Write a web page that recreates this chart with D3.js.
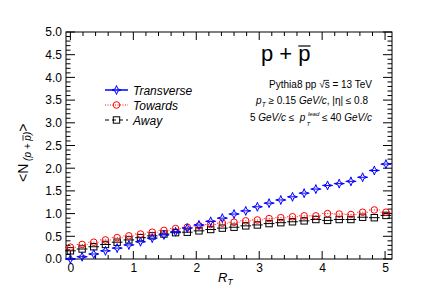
<!DOCTYPE html>
<html><head><meta charset="utf-8">
<script src="https://cdn.jsdelivr.net/npm/d3@7"></script>
<style>body{margin:0;background:#fff}svg{display:block;font-family:"Liberation Sans",Arial,sans-serif}text{white-space:pre}</style>
</head><body>
<script>
const rt = [0.000,0.186,0.371,0.557,0.743,0.929,1.114,1.300,1.486,1.671,1.857,2.043,2.229,2.414,2.600,2.786,2.971,3.157,3.343,3.529,3.714,3.900,4.086,4.271,4.457,4.643,4.829,5.014];
const transverse = [0.00,0.05,0.11,0.18,0.24,0.31,0.38,0.46,0.53,0.60,0.68,0.75,0.83,0.90,0.99,1.06,1.15,1.23,1.30,1.37,1.45,1.54,1.62,1.66,1.71,1.80,1.95,2.09];
const towards = [0.26,0.32,0.37,0.42,0.47,0.51,0.55,0.59,0.63,0.67,0.70,0.73,0.76,0.79,0.81,0.84,0.86,0.89,0.91,0.93,0.95,0.95,1.00,0.99,0.98,1.03,1.08,1.03];
const away = [0.18,0.22,0.27,0.32,0.37,0.42,0.47,0.51,0.55,0.58,0.59,0.62,0.65,0.68,0.70,0.73,0.75,0.78,0.80,0.82,0.84,0.87,0.85,0.87,0.87,0.92,0.91,0.96];
const seriesNames = ["Transverse","Towards","Away"];
const xTickLabels = ["0","1","2","3","4","5"];
const yTickLabels = ["0.0","0.5","1.0","1.5","2.0","2.5","3.0","3.5","4.0","4.5","5.0"];

const W=436,H=305;
const svg=d3.select("body").append("svg").attr("width",W).attr("height",H);
const L=66,R=392,T=32,B=259;
const x=d3.scaleLinear().domain([-0.07,5.11]).range([L,R]);
const y=d3.scaleLinear().domain([0,5]).range([B,T]);

svg.append("rect").attr("x",L).attr("y",T).attr("width",R-L).attr("height",B-T).attr("fill","none").attr("stroke","#000").attr("stroke-width",1);

const g=svg.append("g").attr("stroke","#000").attr("stroke-width",1);
const xMinor=d3.range(0,26).map(i=>i*0.2).filter(v=>x(v)<=R);
xMinor.forEach(v=>{
  const major=Math.abs(v-Math.round(v))<1e-6;
  const len=major?8:4;
  g.append("line").attr("x1",x(v)).attr("x2",x(v)).attr("y1",B).attr("y2",B-len);
  g.append("line").attr("x1",x(v)).attr("x2",x(v)).attr("y1",T).attr("y2",T+len);
});
d3.range(0,51).forEach(i=>{
  const v=i*0.1, major=i%5===0, len=major?9:4.5;
  g.append("line").attr("x1",L).attr("x2",L+len).attr("y1",y(v)).attr("y2",y(v));
  g.append("line").attr("x1",R).attr("x2",R-len).attr("y1",y(v)).attr("y2",y(v));
});

const xAx=d3.axisBottom(x).tickValues(xTickLabels.map(Number)).tickFormat((d,i)=>xTickLabels[i]).tickSize(0).tickPadding(0);
const ga=svg.append("g").attr("transform",`translate(0,${B+4})`).call(xAx);
ga.select(".domain").remove();
ga.selectAll("text").attr("font-size",12).attr("font-family","Liberation Sans, Arial").attr("fill","#000").attr("dy","0.71em");
const yAx=d3.axisLeft(y).tickValues(yTickLabels.map(Number)).tickFormat((d,i)=>yTickLabels[i]).tickSize(0).tickPadding(0);
const gy=svg.append("g").attr("transform",`translate(${L-4},0)`).call(yAx);
gy.select(".domain").remove();
gy.selectAll("text").attr("font-size",12).attr("font-family","Liberation Sans, Arial").attr("fill","#000");

function star(sel,cx,cy,r,col){
  const w=r*0.28;
  const pts=[[0,-r],[w,-w],[r,0],[w,w],[0,r],[-w,w],[-r,0],[-w,-w]].map(p=>[cx+p[0],cy+p[1]]);
  sel.append("path").attr("d","M"+pts.join("L")+"Z").attr("fill","none").attr("stroke",col).attr("stroke-width",1);
}
function circ(sel,cx,cy,col){sel.append("circle").attr("cx",cx).attr("cy",cy).attr("r",3.3).attr("fill","none").attr("stroke",col).attr("stroke-width",1);}
function sq(sel,cx,cy,col){sel.append("rect").attr("x",cx-3.2).attr("y",cy-3.2).attr("width",6.4).attr("height",6.4).attr("fill","none").attr("stroke",col).attr("stroke-width",1);}

const series=[
 {vals:away,col:"#000",dash:null,m:"sq"},
 {vals:towards,col:"#f00",dash:"1,1.5",m:"circ"},
 {vals:transverse,col:"#00f",dash:null,m:"star"}
];
const hw=0.085;
series.forEach(s=>{
  const gs=svg.append("g");
  s.vals.forEach((v,i)=>{
    gs.append("line").attr("x1",x(rt[i]-hw)).attr("x2",x(rt[i]+hw)).attr("y1",y(v)).attr("y2",y(v))
      .attr("stroke",s.col).attr("stroke-width",1).attr("stroke-dasharray",s.dash);
  });
  s.vals.forEach((v,i)=>{
    const cx=x(rt[i]),cy=y(v);
    if(s.m==="sq")sq(gs,cx,cy,s.col);else if(s.m==="circ")circ(gs,cx,cy,s.col);else star(gs,cx,cy,4.5,s.col);
  });
});

const leg=[{n:seriesNames[0],col:"#00f",dash:null,m:"star",w:1.5},{n:seriesNames[1],col:"#f00",dash:"1,1.5",m:"circ",w:1},{n:seriesNames[2],col:"#000",dash:"4,3",m:"sq",w:1}];
leg.forEach((d,i)=>{
  const ly=90+i*15;
  svg.append("line").attr("x1",105).attr("x2",128).attr("y1",ly).attr("y2",ly).attr("stroke",d.col).attr("stroke-width",d.w).attr("stroke-dasharray",d.dash);
  if(d.m==="sq")sq(svg,116.5,ly,d.col);else if(d.m==="circ")circ(svg,116.5,ly,d.col);else star(svg,116.5,ly,4.5,d.col);
  svg.append("text").attr("x",133).attr("y",ly+4.5).attr("font-size",12).attr("font-style","italic").text(d.n);
});

function rich(parent,x0,y0,items,anchor){
  const els=[];
  items.forEach(it=>{
    const t=parent.append("text").attr("font-size",it.size).attr("font-style",it.italic?"italic":"normal").attr("fill","#000").attr("xml:space","preserve").text(it.t);
    const w=t.node().getComputedTextLength();
    els.push({t,w,it});
  });
  let cx=0;const pos=[];
  els.forEach(e=>{const px=cx+(e.it.dx||0);pos.push(px);cx=e.it.noAdvance?cx:px+e.w;});
  const off=anchor==="end"?x0-cx:x0;
  els.forEach((e,i)=>{
    const px=off+pos[i],py=y0+(e.it.dy||0);
    e.t.attr("x",px).attr("y",py);
    if(e.it.bar){
      const bw=e.it.barW||e.w;const bx=px+(e.it.barX||0);
      parent.append("line").attr("x1",bx).attr("x2",bx+bw).attr("y1",py-e.it.bar).attr("y2",py-e.it.bar).attr("stroke","#000").attr("stroke-width",e.it.barSW||1);
    }
  });
}

rich(svg,261,61,[{t:"p + ",size:22},{t:"p",size:22,bar:15,barSW:1.2}],"start");

rich(svg,372,88,[{t:"Pythia8 pp ",size:10},{t:"\u221As",size:10,bar:7.6,barX:4.4,barW:5.5,barSW:0.8},{t:" = 13 TeV",size:10}],"end");
rich(svg,368,104,[{t:"p",size:10,italic:true},{t:"T",size:6.5,italic:true,dy:3},{t:" \u2265 0.15 ",size:10},{t:"GeV/c",size:10,italic:true},{t:", |\u03B7| \u2264 0.8",size:10}],"end");
rich(svg,372,121,[{t:"5 ",size:10},{t:"GeV/c",size:10,italic:true},{t:" \u2264  ",size:10},{t:"p",size:10,italic:true},{t:"T",size:6,italic:true,dy:5,dx:1,noAdvance:true},{t:"lead",size:6,italic:true,dy:-5.5,dx:2.5},{t:" \u2264 40 ",size:10},{t:"GeV/c",size:10,italic:true}],"end");

rich(svg,218,282,[{t:"R",size:13,italic:true},{t:"T",size:8.5,italic:true,dy:3}],"start");

const gyl=svg.append("g").attr("transform","translate(28,182) rotate(-90)");
rich(gyl,0,0,[{t:"<N",size:14},{t:" (p + ",size:10,italic:true,dy:3},{t:"p",size:10,italic:true,dy:3,bar:8,barSW:0.8},{t:")",size:10,italic:true,dy:3},{t:">",size:14}],"start");
</script>
</body></html>
